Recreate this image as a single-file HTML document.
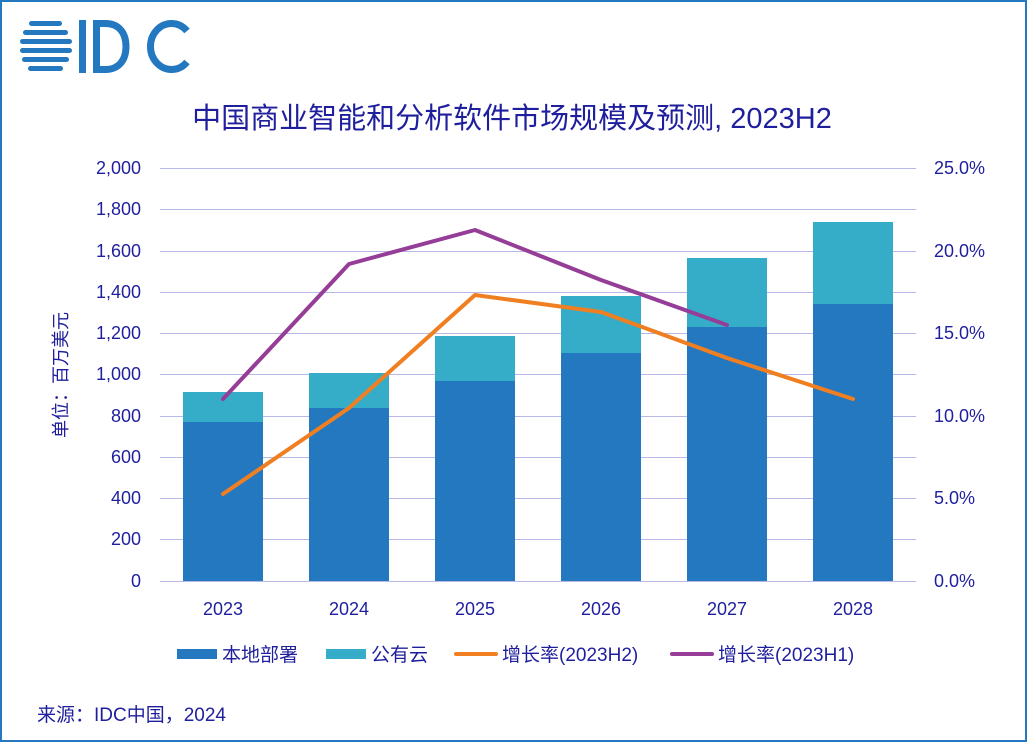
<!DOCTYPE html>
<html><head><meta charset="utf-8"><style>
body{margin:0;background:#fff}
svg{display:block}
text{font-family:"Liberation Sans","Noto Sans CJK SC",sans-serif;fill:#1f1f9e}
</style></head><body>
<svg width="1027" height="742" viewBox="0 0 1027 742">
<rect x="1" y="1" width="1025" height="740" fill="#fff" stroke="#2378c0" stroke-width="2"/>
<!-- logo -->
<g fill="#2378c0">
<rect x="29" y="21" width="33" height="5" rx="2.5"/>
<rect x="23" y="30" width="45" height="5" rx="2.5"/>
<rect x="20" y="39" width="52" height="5" rx="2.5"/>
<rect x="20" y="48" width="52" height="5" rx="2.5"/>
<rect x="22" y="57" width="47" height="5" rx="2.5"/>
<rect x="28" y="66" width="35" height="5" rx="2.5"/>
<rect x="79" y="20" width="7" height="53"/>
</g>
<g fill="none" stroke="#2378c0" stroke-width="7">
<path d="M96.5 23.5h9c13 0 20.5 9 20.5 23s-7.5 23-20.5 23h-9z"/>
<path d="M187 31a21 23 0 1 0 0 31"/>
</g>
<text x="512" y="128" font-size="29" text-anchor="middle">中国商业智能和分析软件市场规模及预测, 2023H2</text>
<!-- grid -->
<g stroke="#b8b8e8" stroke-width="1">
<line x1="160" x2="916" y1="168.5" y2="168.5"/><line x1="160" x2="916" y1="209.5" y2="209.5"/>
<line x1="160" x2="916" y1="251.5" y2="251.5"/><line x1="160" x2="916" y1="292.5" y2="292.5"/>
<line x1="160" x2="916" y1="333.5" y2="333.5"/><line x1="160" x2="916" y1="374.5" y2="374.5"/>
<line x1="160" x2="916" y1="416.5" y2="416.5"/><line x1="160" x2="916" y1="457.5" y2="457.5"/>
<line x1="160" x2="916" y1="498.5" y2="498.5"/><line x1="160" x2="916" y1="539.5" y2="539.5"/>
</g>
<g font-size="18" text-anchor="end">
<text x="141" y="174">2,000</text><text x="141" y="215">1,800</text><text x="141" y="257">1,600</text>
<text x="141" y="298">1,400</text><text x="141" y="339">1,200</text><text x="141" y="380">1,000</text>
<text x="141" y="422">800</text><text x="141" y="463">600</text><text x="141" y="504">400</text>
<text x="141" y="545">200</text><text x="141" y="587">0</text>
</g>
<g font-size="18">
<text x="934" y="174">25.0%</text><text x="934" y="257">20.0%</text><text x="934" y="339">15.0%</text>
<text x="934" y="422">10.0%</text><text x="934" y="504">5.0%</text><text x="934" y="587">0.0%</text>
</g>
<text transform="translate(67,375) rotate(-90)" font-size="18" text-anchor="middle">单位：百万美元</text>
<!-- bars -->
<g fill="#2378c0">
<rect x="183" y="422" width="80" height="159"/><rect x="309" y="408" width="80" height="173"/>
<rect x="435" y="381" width="80" height="200"/><rect x="561" y="353" width="80" height="228"/>
<rect x="687" y="327" width="80" height="254"/><rect x="813" y="304" width="80" height="277"/>
</g>
<g fill="#36adc8">
<rect x="183" y="392" width="80" height="30"/><rect x="309" y="373" width="80" height="35"/>
<rect x="435" y="336" width="80" height="45"/><rect x="561" y="296" width="80" height="57"/>
<rect x="687" y="258" width="80" height="69"/><rect x="813" y="222" width="80" height="82"/>
</g>
<line x1="160" x2="916" y1="581.5" y2="581.5" stroke="#b8b8e8"/>
<polyline points="223,494 349,408 475,295 601,312 727,358 853,399" fill="none" stroke="#f07f22" stroke-width="4" stroke-linejoin="round" stroke-linecap="round"/>
<polyline points="223,399 349,264 475,230 601,280 727,325" fill="none" stroke="#953d97" stroke-width="4" stroke-linejoin="round" stroke-linecap="round"/>
<g font-size="18" text-anchor="middle">
<text x="223" y="615">2023</text><text x="349" y="615">2024</text><text x="475" y="615">2025</text>
<text x="601" y="615">2026</text><text x="727" y="615">2027</text><text x="853" y="615">2028</text>
</g>
<!-- legend -->
<rect x="177" y="649" width="40" height="10" fill="#2378c0"/>
<text x="222" y="661" font-size="19">本地部署</text>
<rect x="326" y="649" width="40" height="10" fill="#36adc8"/>
<text x="371" y="661" font-size="19">公有云</text>
<line x1="456" x2="496" y1="654" y2="654" stroke="#f07f22" stroke-width="4" stroke-linecap="round"/>
<text x="502" y="661" font-size="19">增长率(2023H2)</text>
<line x1="672" x2="712" y1="654" y2="654" stroke="#953d97" stroke-width="4" stroke-linecap="round"/>
<text x="718" y="661" font-size="19">增长率(2023H1)</text>
<text x="37" y="721" font-size="19">来源：IDC中国，2024</text>
</svg>
</body></html>
